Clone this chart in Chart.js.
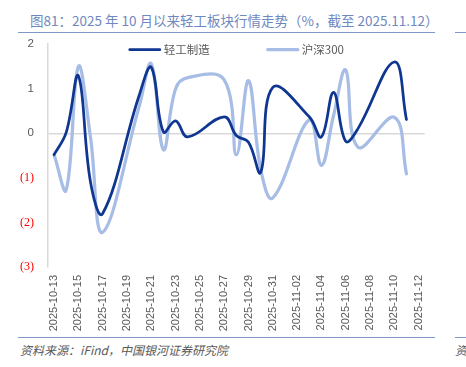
<!DOCTYPE html>
<html lang="zh-CN">
<head>
<meta charset="utf-8">
<title>轻工板块行情走势</title>
<script src="https://cdn.jsdelivr.net/npm/chart.js@4.4.1/dist/chart.umd.min.js"></script>
<style>
  html, body { margin: 0; padding: 0; background: #fff; }
  body { width: 466px; height: 367px; position: relative; overflow: hidden; font-family: 'Noto Sans CJK SC', sans-serif; }
  .title { position: absolute; left: 30px; top: 10px; font-size: 13.5px; line-height: 20px; color: #7088bf; white-space: nowrap; }
  .rule { position: absolute; height: 1px; background: #7f97c9; }
  .source { position: absolute; left: 20px; top: 341px; font-size: 12px; line-height: 18px; color: #595959; font-style: italic; white-space: nowrap; }
  .chart-box { position: absolute; left: 0; top: 23px; width: 440px; height: 313px; }
</style>
</head>
<body>
<div class="title">图81：2025 年 10 月以来轻工板块行情走势（%，截至 2025.11.12）</div>
<div class="rule" style="left:18px; width:417px; top:32px;"></div>
<div class="rule" style="left:455px; width:11px; top:32px;"></div>
<div class="chart-box"><canvas id="trendChart"></canvas></div>
<div class="rule" style="left:18px; width:417px; top:337px;"></div>
<div class="rule" style="left:455px; width:11px; top:337px;"></div>
<div class="source">资料来源：iFind，中国银河证券研究院</div>
<div class="source" style="left:455px;">资</div>

<script>
// 交易日
const dates = ['2025-10-13', '2025-10-14', '2025-10-15', '2025-10-16', '2025-10-17',
    '2025-10-20', '2025-10-21', '2025-10-22', '2025-10-23', '2025-10-24',
    '2025-10-27', '2025-10-28', '2025-10-29', '2025-10-30', '2025-10-31',
    '2025-11-03', '2025-11-04', '2025-11-05', '2025-11-06', '2025-11-07',
    '2025-11-10', '2025-11-11'];

// 日涨跌幅 %
const lightIndustry = [-0.48, 0.02, 1.29, -1.1, -1.8,
    0.85, 1.48, 0.03, 0.28, -0.08,
    0.37, -0.05, -0.2, -0.88, 1.03,
    0.37, -0.08, 0.92, -0.18, 0.1,
    1.6, 0.31];
const hs300 = [-0.48, -1.27, 1.5, -0.1, -2.22,
    0.6, 1.56, -0.37, 1.0, 1.25,
    1.2, -0.48, 1.18, -0.8, -1.45,
    0.3, -0.72, 0.4, 1.42, -0.31,
    0.36, -0.91];

// 坐标轴刻度
const xTickLabels = ['2025-10-13', '2025-10-15', '2025-10-17', '2025-10-19', '2025-10-21',
    '2025-10-23', '2025-10-25', '2025-10-27', '2025-10-29', '2025-10-31',
    '2025-11-02', '2025-11-04', '2025-11-06', '2025-11-08', '2025-11-10', '2025-11-12'];
const yTicks = [2, 1, 0, -1, -2, -3];

const DAY = 864e5;
const baseTime = Date.parse(xTickLabels[0]);
const dayOf = s => (Date.parse(s) - baseTime) / DAY;
const xTickDays = xTickLabels.map(dayOf);

const toPoints = vals => dates.map((d, i) => ({ x: dayOf(d), y: vals[i] }));

// 图例：线段 + 文字，画在绘图区顶部
const lineLegend = {
    id: 'lineLegend',
    afterDraw(chart) {
        const { ctx, chartArea } = chart;
        const lineLen = 32, gap = 3, itemGap = 57;
        ctx.save();
        ctx.font = '11.5px "Noto Sans CJK SC"';
        const items = chart.data.datasets.map(ds => ({ ds, w: lineLen + gap + ctx.measureText(ds.label).width }));
        const total = items.reduce((s, it) => s + it.w, 0) + itemGap * (items.length - 1);
        let x = (chartArea.left + chartArea.right) / 2 - total / 2;
        const y = chartArea.top + 5.5;
        items.forEach(it => {
            ctx.strokeStyle = it.ds.borderColor;
            ctx.lineWidth = it.ds.borderWidth;
            ctx.lineCap = 'round';
            ctx.beginPath();
            ctx.moveTo(x + 1, y);
            ctx.lineTo(x + lineLen - 1, y);
            ctx.stroke();
            ctx.fillStyle = '#595959';
            ctx.textBaseline = 'middle';
            ctx.fillText(it.ds.label, x + lineLen + gap, y);
            x += it.w + itemGap;
        });
        ctx.restore();
    }
};

const ctx = document.getElementById('trendChart').getContext('2d');
new Chart(ctx, {
    type: 'line',
    data: {
        datasets: [{
            label: '轻工制造',
            data: toPoints(lightIndustry),
            borderColor: '#0f3690',
            borderWidth: 2.75,
            tension: 0.4,
            pointRadius: 0,
            borderCapStyle: 'round',
            borderJoinStyle: 'round'
        }, {
            label: '沪深300',
            data: toPoints(hs300),
            borderColor: '#a7bde6',
            borderWidth: 3.25,
            tension: 0.4,
            pointRadius: 0,
            borderCapStyle: 'round',
            borderJoinStyle: 'round'
        }]
    },
    options: {
        responsive: true,
        maintainAspectRatio: false,
        animation: false,
        layout: { padding: { top: 8, right: 11.5, left: 0, bottom: 0 } },
        plugins: {
            legend: { display: false },
            tooltip: { enabled: false }
        },
        scales: {
            x: {
                type: 'linear',
                min: -0.5,
                max: 30.5,
                afterBuildTicks: scale => { scale.ticks = xTickDays.map(v => ({ value: v })); },
                afterFit: scale => { scale.height = 69; },
                grid: { display: false, drawTicks: false },
                border: { display: false },
                ticks: {
                    autoSkip: false,
                    minRotation: 90,
                    maxRotation: 90,
                    padding: 8,
                    color: '#595959',
                    font: { family: "'Liberation Sans', sans-serif", size: 11 },
                    callback: (v, i) => xTickLabels[i]
                }
            },
            y: {
                min: yTicks[yTicks.length - 1],
                max: yTicks[0],
                afterBuildTicks: scale => { scale.ticks = yTicks.map(v => ({ value: v })); },
                afterFit: scale => { scale.width = 48; },
                grid: {
                    drawTicks: false,
                    color: c => c.tick && c.tick.value === 0 ? '#d9d9d9' : 'rgba(0,0,0,0)',
                    lineWidth: 1.5
                },
                border: { display: true, color: '#d9d9d9', width: 1.5 },
                ticks: {
                    padding: 14,
                    color: c => c.tick.value < 0 ? '#ff0000' : '#595959',
                    font: c => c.tick && c.tick.value < 0
                        ? { family: "'Liberation Serif', serif", size: 12 }
                        : { family: "'Liberation Sans', sans-serif", size: 11.5 },
                    callback: v => v < 0 ? '(' + (-v) + ')' : String(v)
                }
            }
        }
    },
    plugins: [lineLegend]
});
</script>
</body>
</html>
